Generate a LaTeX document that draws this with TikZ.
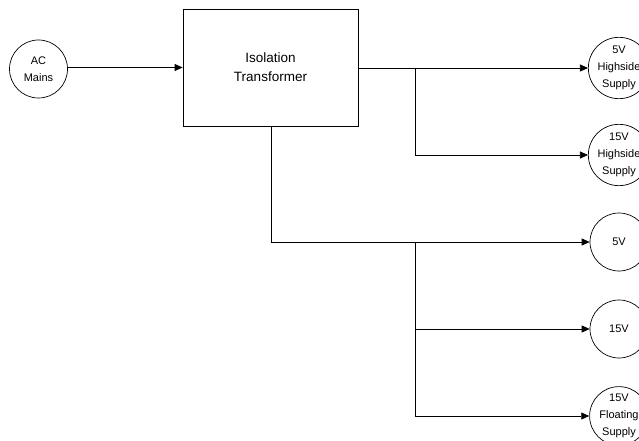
\documentclass[tikz,border=0pt]{standalone}
\usepackage{fontspec}
\setmainfont{Liberation Sans}
\usetikzlibrary{arrows.meta}
\begin{document}
\begin{tikzpicture}[x=1pt,y=-1pt,
  line width=0.7pt,
  src/.style={draw,circle,minimum size=58pt,inner sep=0pt,align=center,font=\fontsize{11}{17}\selectfont},
  blk/.style={draw,rectangle,minimum width=175pt,minimum height=117pt,align=center,font=\fontsize{13.5}{19}\selectfont},
  arr/.style={-{Triangle[length=8pt,width=7pt]}}]
\useasboundingbox (0,0) rectangle (639,441);
\node[src] (ac) at (38.5,69) {AC\\Mains};
\node[blk] (tr) at (270.5,67.5) {Isolation\\Transformer};
\node[src] (o1) at (619,68) {5V\\Highside\\Supply};
\node[src] (o2) at (619,155) {15V\\Highside\\Supply};
\node[src] (o3) at (619,242) {5V};
\node[src] (o4) at (619,329) {15V};
\node[src] (o5) at (619,416) {15V\\Floating\\Supply};
\coordinate (j1) at (415.5,68);
\coordinate (b0) at (271,126);
\coordinate (j2) at (415.5,242);
\draw[arr] (ac.east |- tr) -- (tr);
\draw[arr] (tr.east |- j1) -- (o1);
\draw[arr] (j1) |- (o2);
\draw[arr] (b0) |- (o3);
\draw[arr] (j2) |- (o4);
\draw[arr] (j2) |- (o5);
\end{tikzpicture}
\end{document}
